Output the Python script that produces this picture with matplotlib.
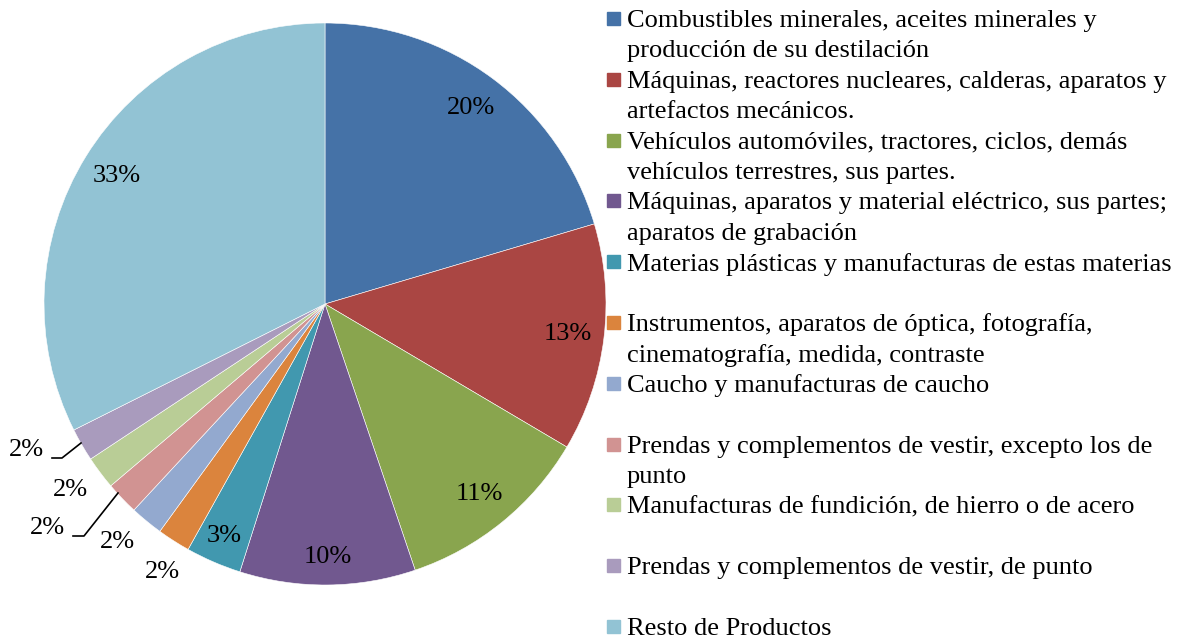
import matplotlib
matplotlib.use("Agg")
import matplotlib.pyplot as plt
import numpy as np
from matplotlib.patches import Rectangle

plt.rcParams['font.family'] = ['Liberation Serif', 'DejaVu Serif']

categories = [
    "Combustibles minerales, aceites minerales y\nproducción de su destilación",
    "Máquinas, reactores nucleares, calderas, aparatos y\nartefactos mecánicos.",
    "Vehículos automóviles, tractores, ciclos, demás\nvehículos terrestres, sus partes.",
    "Máquinas, aparatos y material eléctrico, sus partes;\naparatos de grabación",
    "Materias plásticas y manufacturas de estas materias",
    "Instrumentos, aparatos de óptica, fotografía,\ncinematografía, medida, contraste",
    "Caucho y manufacturas de caucho",
    "Prendas y complementos de vestir, excepto los de\npunto",
    "Manufacturas de fundición, de hierro o de acero",
    "Prendas y complementos de vestir, de punto",
    "Resto de Productos",
]
values = [20.4, 13.1, 11.3, 10.1, 3.2, 1.9, 1.9, 1.9, 1.9, 1.9, 32.4]
pct_labels = ["20%", "13%", "11%", "10%", "3%", "2%", "2%", "2%", "2%", "2%", "33%"]
colors = ["#4572A7", "#AA4643", "#89A54E", "#71588F", "#4198AF", "#DB843D",
          "#93A9CF", "#D19392", "#B9CD96", "#A99BBD", "#92C3D4"]

W, H = 1180, 641
fig = plt.figure(figsize=(W / 100, H / 100), dpi=100)
cx, cy, R = 325, 304, 281
ax = fig.add_axes([(cx - R) / W, (H - cy - R) / H, 2 * R / W, 2 * R / H])
wedges, _ = ax.pie(values, colors=colors, startangle=90, counterclock=False,
                   radius=1.0, wedgeprops=dict(edgecolor="white", linewidth=0.4))
ax.set_xlim(-1, 1)
ax.set_ylim(-1, 1)
ax.set_aspect("equal")
ax.axis("off")

fs = 19
# inside labels for larger slices
for i, w in enumerate(wedges):
    if values[i] >= 3:
        ang = np.deg2rad((w.theta1 + w.theta2) / 2)
        d = 0.87 if values[i] > 5 else 0.9
        if i == 3:
            d = 0.9
        ax.text(d * np.cos(ang), d * np.sin(ang), pct_labels[i], ha="center",
                va="center", fontsize=fs, color="black")

# outside labels for small slices (positions in pie-radius units)
small_pos = {5: (-0.58, -0.955), 6: (-0.737, -0.848), 7: (-0.986, -0.797),
             8: (-0.907, -0.662), 9: (-1.064, -0.520)}
for i, (x, y) in small_pos.items():
    ax.text(x, y, pct_labels[i], ha="center", va="center", fontsize=fs,
            clip_on=False)

# leader lines
def px(p):
    return ((p[0] - cx) / R, (cy - p[1]) / R)

for pts in [[(52, 458), (62, 458), (81, 443)],
            [(73, 536), (84, 536), (118, 493)]]:
    xy = np.array([px(p) for p in pts])
    ax.plot(xy[:, 0], xy[:, 1], color="black", lw=1.2, clip_on=False)

# legend drawn manually
y0 = 18.5
step = 60.8
line_h = 30.4
for i, (lab, c) in enumerate(zip(categories, colors)):
    yc = y0 + step * i
    fig.patches.append(Rectangle((607 / W, 1 - (yc + 6.5) / H), 13 / W, 13 / H,
                                 transform=fig.transFigure, color=c))
    for k, line in enumerate(lab.split("\n")):
        fig.text(627 / W, 1 - (yc + k * line_h) / H, line, fontsize=fs,
                 va="center_baseline", ha="left")

fig.savefig("out.png", dpi=100)
